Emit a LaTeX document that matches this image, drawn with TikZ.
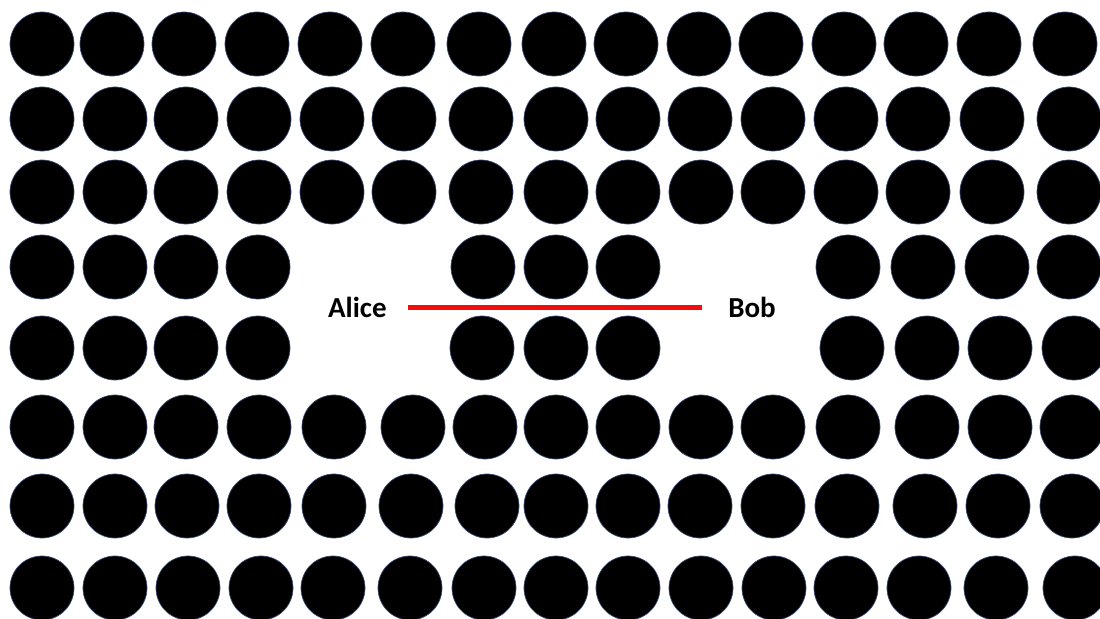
\documentclass[tikz,border=0pt]{standalone}
\usepackage{fontspec}
\setmainfont{Carlito}
\usetikzlibrary{positioning}
\definecolor{rim}{HTML}{3A4A72}
\definecolor{wire}{HTML}{F20D0D}

\begin{document}
\begin{tikzpicture}[
  x=0.02cm,y=-0.02cm,
  dot/.style={circle,fill=black,draw=rim,line width=0.4pt,minimum size=1.28cm,inner sep=0pt},
  party/.style={font=\bfseries\fontsize{16.5}{20}\selectfont,inner sep=0pt},
  link/.style={draw=wire,line width=3pt,shorten <=0.42cm,shorten >=0.52cm}
]
\useasboundingbox (0,0) rectangle (1100,619);
\fill[white] (0,0) rectangle (1100,619);
\clip (0,0) rectangle (1100,619);
\foreach \r/\y/\xs in {
  1/44/{42,112,184,257,330,403,479,554,626,699,771,844,916,989,1065},
  2/119/{42,115,186,259,332,404,481,556,628,700,773,846,918,992,1069},
  3/192/{42,115,186,259,332,404,481,556,628,701,773,846,918,992,1069},
  4/267/{42,115,186,258,483,556,628,848,923,997,1069},
  5/348/{42,115,186,258,482,556,628,852,927,1000,1074},
  6/427/{42,115,186,259,334,413,485,556,628,701,773,848,927,1000,1072},
  7/506/{42,115,187,259,334,411,487,556,628,700,773,847,925,998,1072},
  8/588/{42,115,188,261,333,410,484,556,628,701,774,846,919,996,1075}}{
  \foreach \x [count=\c] in \xs
    \node[dot] (d\r-\c) at (\x,\y) {};
}
\node[party,anchor=east] (alice) at (387,307.5) {Alice};
\node[party,anchor=west] (bob) at (728,307.5) {Bob};
\draw[link] (alice.east) -- (alice.east -| bob.west);
\end{tikzpicture}
\end{document}
